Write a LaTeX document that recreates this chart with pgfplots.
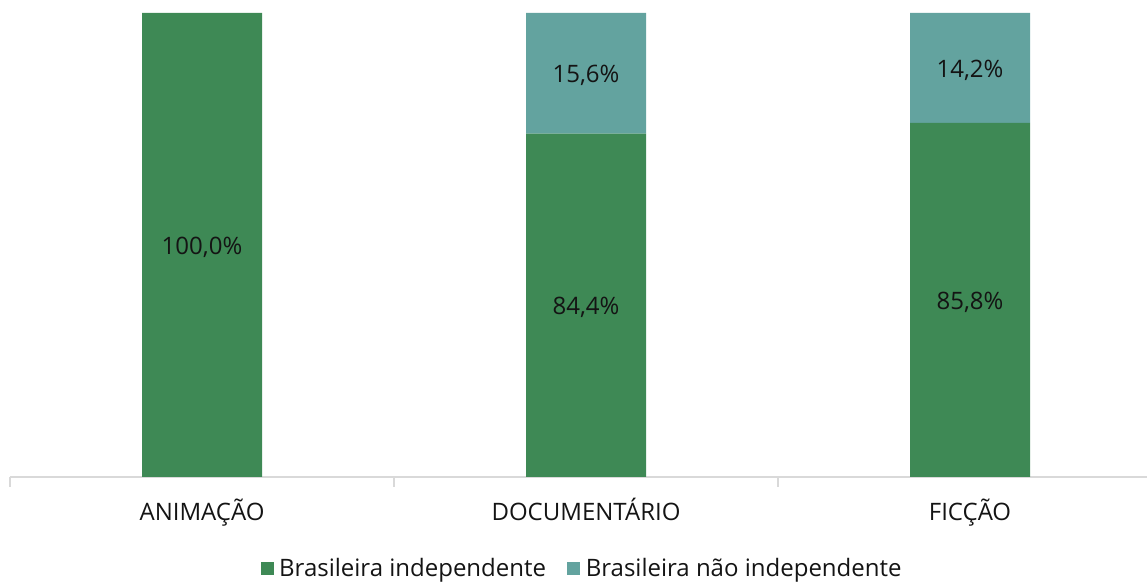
\documentclass[border=0pt]{standalone}
\usepackage{pgfplots}
\pgfplotsset{compat=1.18}
\usepackage{fontspec}
\setmainfont{Open Sans}
\definecolor{cgreen}{RGB}{62,137,85}
\definecolor{cteal}{RGB}{99,163,159}
\definecolor{cline}{RGB}{217,217,217}
\definecolor{ctext}{RGB}{20,20,20}
\tikzset{lbl/.style={font=\fontsize{18}{21}\selectfont, text=ctext, yshift=-1.5pt}}
\begin{document}
\begin{tikzpicture}
\begin{axis}[
  name=ax,
  scale only axis, width=852.75pt, height=348pt,
  xmin=-0.5, xmax=2.4609, ymin=40, ymax=100,
  ybar stacked, bar width=0.3125,
  axis y line=none, axis x line*=bottom,
  x axis line style={-, draw=cline, line width=0.9pt},
  xtick={0,1,2}, xticklabels={ANIMAÇÃO,DOCUMENTÁRIO,FICÇÃO},
  tick align=outside,
  major tick length=0pt,
  extra x ticks={-0.5,0.5,1.5}, extra x tick labels={},
  extra x tick style={major tick length=7.5pt, tick style={draw=cline, line width=0.9pt}},
  xticklabel style={font=\fontsize{18}{21}\selectfont, text=ctext, anchor=base, yshift=-33pt},
  legend columns=2,
  legend style={at={(0.5035,-0.198)}, anchor=center, draw=none, fill=none,
    font=\fontsize{18}{21}\selectfont, text=ctext,
    /tikz/every odd column/.append style={column sep=2pt},
    /tikz/every even column/.append style={column sep=14pt}},
  legend image code/.code={\fill[#1] (0pt,-4.9pt) rectangle (9.8pt,4.9pt);},
]
\addplot[fill=cgreen, draw=none] coordinates {(0,100) (1,84.4) (2,85.8)};
\addlegendentry{Brasileira independente}
\addplot[fill=cteal, draw=none] coordinates {(0,0) (1,15.6) (2,14.2)};
\addlegendentry{Brasileira não independente}
\coordinate (l1) at (axis cs:0,70);
\coordinate (l2) at (axis cs:1,62.2);
\coordinate (l3) at (axis cs:1,92.2);
\coordinate (l4) at (axis cs:2,62.9);
\coordinate (l5) at (axis cs:2,92.9);
\end{axis}
\node[lbl] at (l1) {100,0\%};
\node[lbl] at (l2) {84,4\%};
\node[lbl] at (l3) {15,6\%};
\node[lbl] at (l4) {85,8\%};
\node[lbl] at (l5) {14,2\%};
\pgfresetboundingbox
\path ([xshift=-7.5pt,yshift=-78.75pt]ax.south west) rectangle ([yshift=9.75pt]ax.north east);
\end{tikzpicture}
\end{document}
